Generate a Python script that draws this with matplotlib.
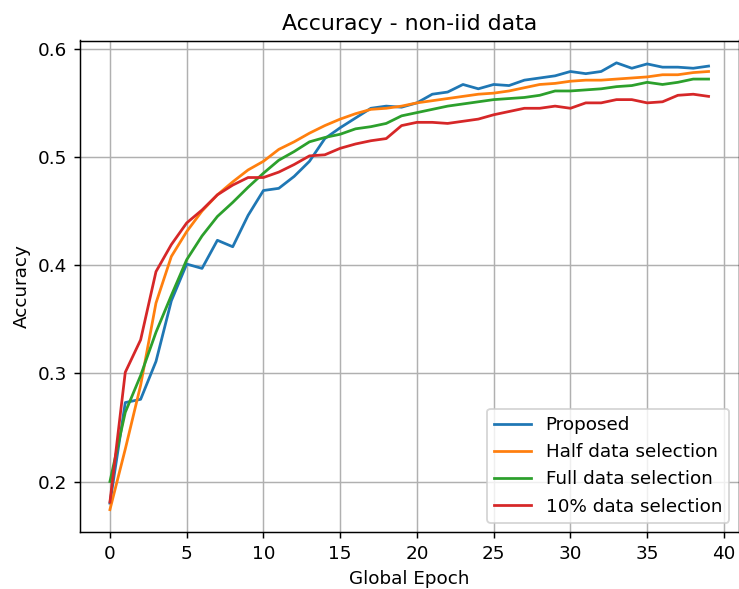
import numpy as np
from matplotlib import pyplot as plt

epochs = list(range(40))

proposed = [0.180, 0.273, 0.276, 0.311, 0.367, 0.401, 0.397, 0.423, 0.417, 0.446,
            0.469, 0.471, 0.482, 0.496, 0.517, 0.527, 0.536, 0.545, 0.547, 0.546,
            0.550, 0.558, 0.560, 0.567, 0.563, 0.567, 0.566, 0.571, 0.573, 0.575,
            0.579, 0.577, 0.579, 0.587, 0.582, 0.586, 0.583, 0.583, 0.582, 0.584]
half = [0.174, 0.230, 0.289, 0.365, 0.408, 0.431, 0.450, 0.465, 0.477, 0.488,
        0.496, 0.507, 0.514, 0.522, 0.529, 0.535, 0.540, 0.544, 0.545, 0.547,
        0.550, 0.552, 0.554, 0.556, 0.558, 0.559, 0.561, 0.564, 0.567, 0.568,
        0.570, 0.571, 0.571, 0.572, 0.573, 0.574, 0.576, 0.576, 0.578, 0.579]
full = [0.200, 0.264, 0.298, 0.338, 0.372, 0.405, 0.427, 0.445, 0.458, 0.472,
        0.485, 0.497, 0.505, 0.514, 0.518, 0.521, 0.526, 0.528, 0.531, 0.538,
        0.541, 0.544, 0.547, 0.549, 0.551, 0.553, 0.554, 0.555, 0.557, 0.561,
        0.561, 0.562, 0.563, 0.565, 0.566, 0.569, 0.567, 0.569, 0.572, 0.572]
ten = [0.181, 0.301, 0.331, 0.394, 0.419, 0.439, 0.451, 0.465, 0.474, 0.481,
       0.481, 0.486, 0.493, 0.501, 0.502, 0.508, 0.512, 0.515, 0.517, 0.529,
       0.532, 0.532, 0.531, 0.533, 0.535, 0.539, 0.542, 0.545, 0.545, 0.547,
       0.545, 0.550, 0.550, 0.553, 0.553, 0.550, 0.551, 0.557, 0.558, 0.556]

dpi = 132
fig = plt.figure(figsize=(739 / dpi, 589 / dpi), dpi=dpi)
ax = fig.add_axes([80 / 739, 57 / 589, 658.5 / 739, 491.5 / 589])
ax.plot(epochs, proposed, label='Proposed')
ax.plot(epochs, half, label='Half data selection')
ax.plot(epochs, full, label='Full data selection')
ax.plot(epochs, ten, label='10% data selection')
ax.set_title('Accuracy - non-iid data')
ax.set_xlabel('Global Epoch')
ax.set_ylabel('Accuracy')
ax.grid()
ax.legend(loc='lower right')
fig.savefig('out.png', dpi=dpi)
